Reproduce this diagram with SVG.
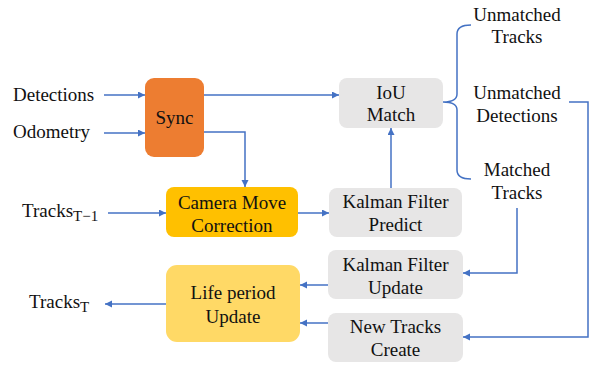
<svg xmlns="http://www.w3.org/2000/svg" width="592" height="365" viewBox="0 0 592 365">
<defs>
<marker id="ah" markerUnits="userSpaceOnUse" markerWidth="8" markerHeight="8" refX="7" refY="3.5" orient="auto">
<path d="M0,0 L7,3.5 L0,7 z" fill="#4472C4"/>
</marker>
<style>
.m{text-anchor:middle;}
.c{fill:none;stroke:#4472C4;stroke-width:1.5;}
.a{marker-end:url(#ah);}
.g{fill:#E7E6E6;}
</style>
</defs>
<rect width="592" height="365" fill="#fff"/>
<g id="labels" font-family="Liberation Serif" font-size="19" fill="#111">
<text font-family="Liberation Serif" x="13" y="101">Detections</text>
<text font-family="Liberation Serif" x="13" y="138">Odometry</text>
<text font-family="Liberation Serif" x="22" y="217">Tracks<tspan font-size="15" dy="4">T−1</tspan></text>
<text font-family="Liberation Serif" x="29" y="308">Tracks<tspan font-size="15" dy="4">T</tspan></text>
<text font-family="Liberation Serif" class="m" x="517" y="21">Unmatched</text>
<text font-family="Liberation Serif" class="m" x="517" y="43">Tracks</text>
<text font-family="Liberation Serif" class="m" x="517" y="99">Unmatched</text>
<text font-family="Liberation Serif" class="m" x="517" y="122">Detections</text>
<text font-family="Liberation Serif" class="m" x="517" y="176">Matched</text>
<text font-family="Liberation Serif" class="m" x="517" y="199">Tracks</text>
</g>
<g id="sync" font-family="Liberation Serif" font-size="19" fill="#111">
<rect x="145" y="78" width="59" height="79" rx="9" fill="#ED7D31"/>
<text font-family="Liberation Serif" class="m" x="174.5" y="124">Sync</text>
</g>
<g id="camera" font-family="Liberation Serif" font-size="19" fill="#111">
<rect x="166" y="187" width="132" height="50" rx="8" fill="#FFC000"/>
<text font-family="Liberation Serif" class="m" x="232" y="209">Camera Move</text>
<text font-family="Liberation Serif" class="m" x="232" y="232">Correction</text>
</g>
<g id="iou" font-family="Liberation Serif" font-size="19" fill="#111">
<rect class="g" x="339" y="78" width="104" height="50" rx="8"/>
<text font-family="Liberation Serif" class="m" x="391" y="99">IoU</text>
<text font-family="Liberation Serif" class="m" x="391" y="121">Match</text>
</g>
<g id="predict" font-family="Liberation Serif" font-size="19" fill="#111">
<rect class="g" x="329" y="188" width="133" height="49" rx="8"/>
<text font-family="Liberation Serif" class="m" x="395.5" y="208">Kalman Filter</text>
<text font-family="Liberation Serif" class="m" x="395.5" y="231">Predict</text>
</g>
<g id="update" font-family="Liberation Serif" font-size="19" fill="#111">
<rect class="g" x="328" y="250" width="135" height="49" rx="8"/>
<text font-family="Liberation Serif" class="m" x="395.5" y="271">Kalman Filter</text>
<text font-family="Liberation Serif" class="m" x="395.5" y="294">Update</text>
</g>
<g id="newtracks" font-family="Liberation Serif" font-size="19" fill="#111">
<rect class="g" x="328" y="313" width="135" height="49" rx="8"/>
<text font-family="Liberation Serif" class="m" x="395.5" y="333">New Tracks</text>
<text font-family="Liberation Serif" class="m" x="395.5" y="356">Create</text>
</g>
<g id="life" font-family="Liberation Serif" font-size="19" fill="#111">
<rect x="166" y="265" width="134" height="77" rx="11" fill="#FFD966"/>
<text font-family="Liberation Serif" class="m" x="233" y="299">Life period</text>
<text font-family="Liberation Serif" class="m" x="233" y="323">Update</text>
</g>
<g id="connectors">
<path class="c a" d="M104,95 H145"/>
<path class="c a" d="M104,133 H145"/>
<path class="c a" d="M204,95 H339"/>
<path class="c a" d="M204,132 H245 V187"/>
<path class="c a" d="M108,213 H166"/>
<path class="c a" d="M298,213 H329"/>
<path class="c a" d="M391,188 V128"/>
<path class="c" d="M471,25 Q457,25 457,34 L457,94 Q457,102 443,102 Q457,102 457,110 L457,170 Q457,179 471,179"/>
<path class="c a" d="M569,102 H588 V337 H463"/>
<path class="c a" d="M517,208 V273 H463"/>
<path class="c a" d="M328,285 H300"/>
<path class="c a" d="M328,323 H300"/>
<path class="c a" d="M166,304 H105"/>
</g>
</svg>
